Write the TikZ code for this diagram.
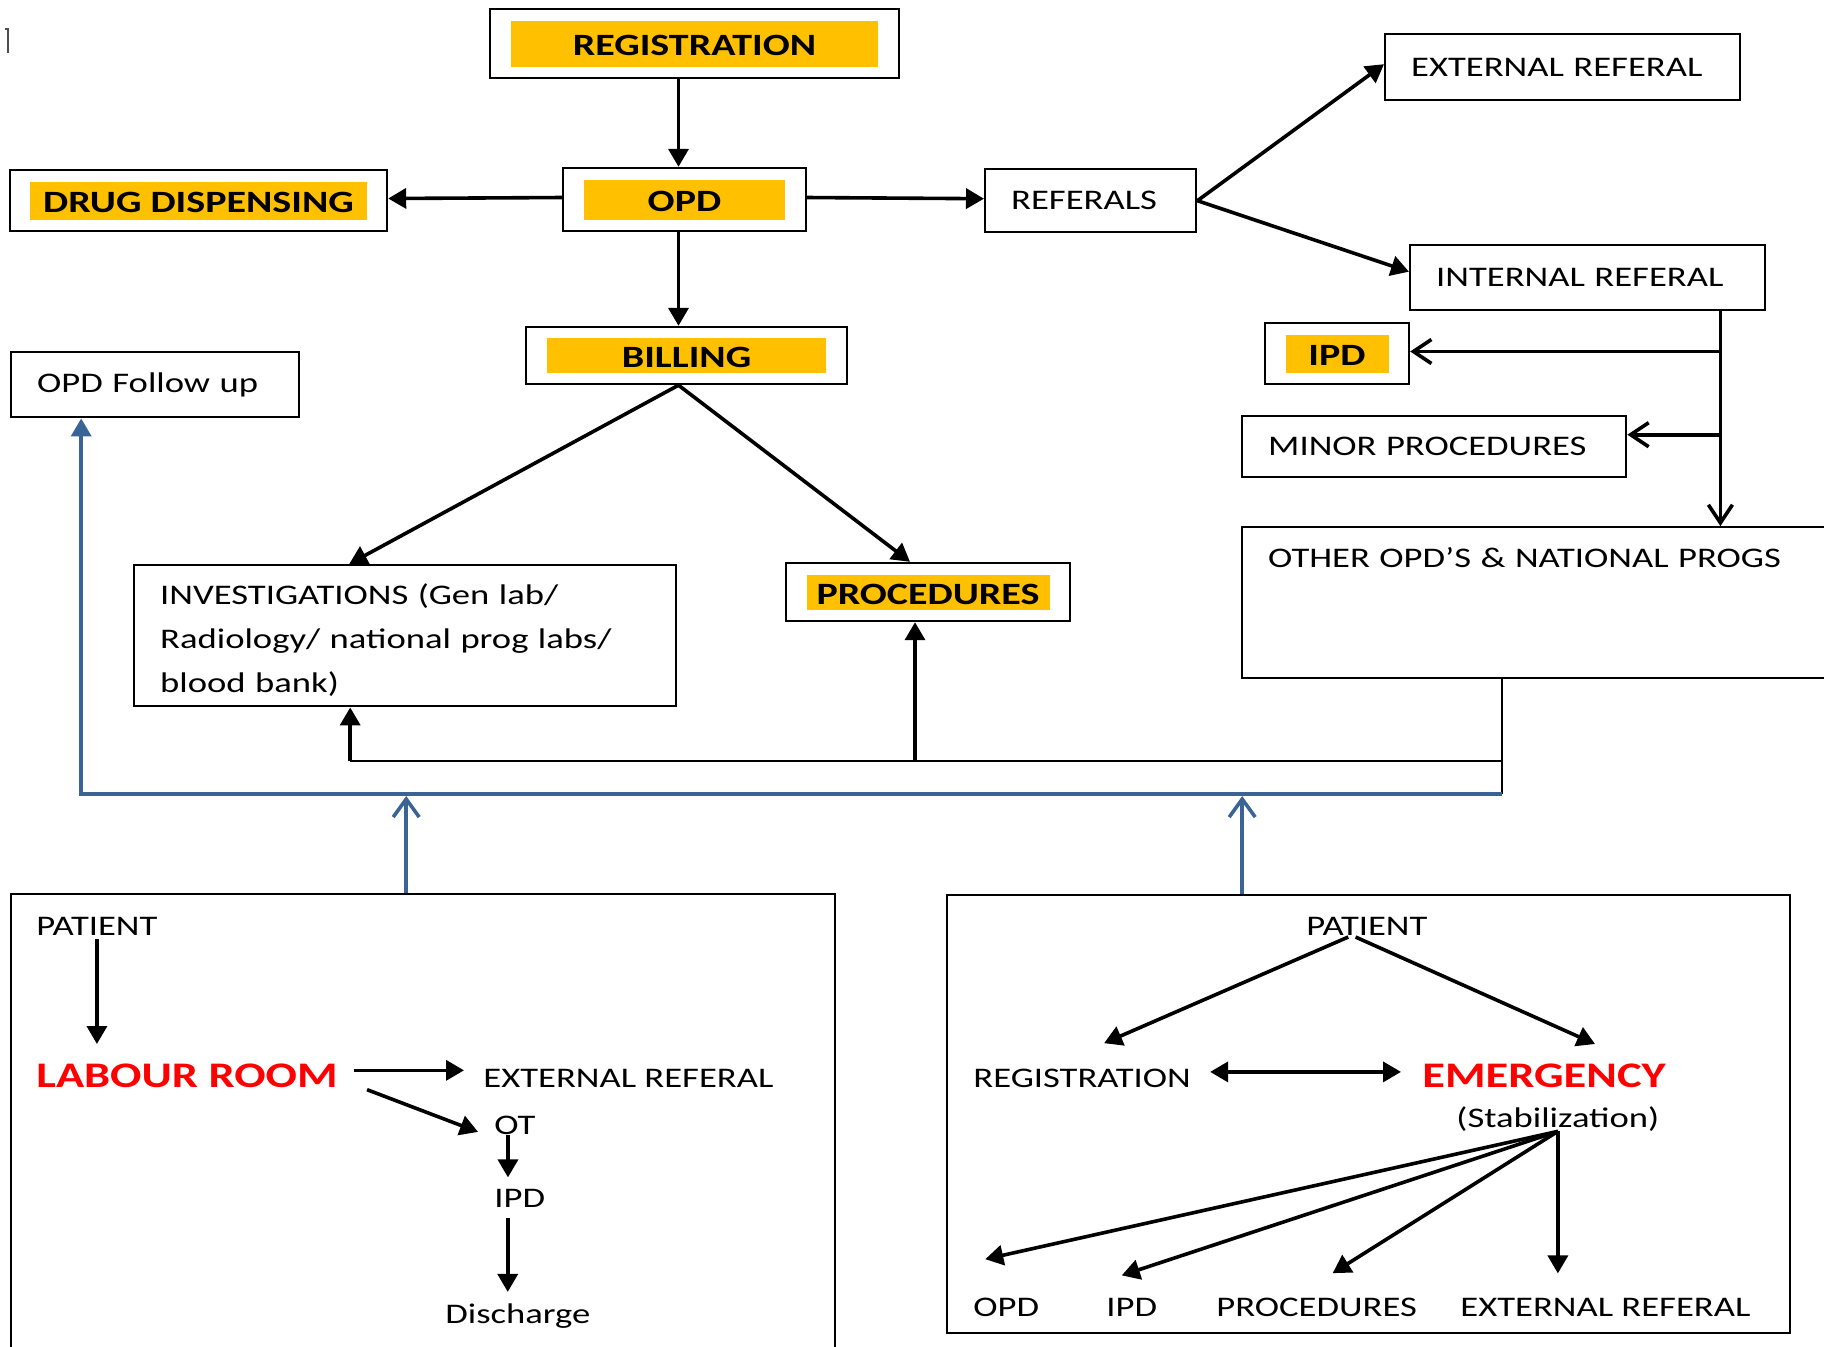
\documentclass[tikz,border=0pt]{standalone}
\usepackage{fontspec}
\setmainfont{Carlito}[FakeStretch=1.29]
\usetikzlibrary{arrows.meta}

\definecolor{gold}{RGB}{255,192,0}
\definecolor{lrred}{RGB}{255,0,0}
\definecolor{fbblue}{RGB}{59,100,150}

\newcommand{\hlt}[3]{{\setlength{\fboxsep}{0pt}\colorbox{gold}{\parbox[c][#2][c]{#1}{\centering\raisebox{-6pt}[0pt][0pt]{#3}}}}}

\tikzset{
  box/.style={draw, line width=1.2pt, inner sep=0pt},
  hlbox/.style 2 args={box, minimum width=#1, minimum height=#2, font=\bfseries\fontsize{15.5}{18}\selectfont},
  pbox/.style 2 args={box, anchor=north west, inner xsep=13pt, text width=#1, minimum height=#2, align=left},
  txt/.style={inner sep=0pt, anchor=base west},
  redtxt/.style={txt, text=lrred, font=\bfseries\fontsize{18}{22}\selectfont},
  arr/.style={line width=1.8pt, -{Triangle[length=9pt,width=10pt]}},
  dbl/.style={line width=1.8pt, {Triangle[length=9pt,width=10pt]}-{Triangle[length=9pt,width=10pt]}},
  barb/.style={line width=1.8pt, -{Straight Barb[length=9pt,width=12pt]}},
  feed/.style={line width=0.9pt},
  bluearr/.style={line width=1.8pt, fbblue, -{Triangle[length=9pt,width=10pt]}},
  bluebarb/.style={line width=1.8pt, fbblue, -{Straight Barb[length=9pt,width=13pt]}},
}

\begin{document}
\begin{tikzpicture}[x=0.5pt, y=-0.5pt, font=\fontsize{14.2}{17}\selectfont]
\useasboundingbox (0,0) rectangle (1824,1346);
\clip (0,0) rectangle (1824,1346);

% stray mark
\draw[line width=1pt, black!70] (5,29) -- (8,29) -- (8,53);

% top part
\node[hlbox={204.5pt}{34.5pt}] (reg) at (694.5,43.5) {\hlt{183.5pt}{23pt}{REGISTRATION}};
\node[hlbox={121.5pt}{31.5pt}] (opd) at (684.5,199.5) {\hlt{100.5pt}{20pt}{OPD}};
\node[hlbox={188.5pt}{30.5pt}] (drug) at (198.5,200.5) {\hlt{168.5pt}{19pt}{DRUG DISPENSING}};
\node[hlbox={160.5pt}{28.5pt}] (bill) at (686.5,355.5) {\hlt{139.5pt}{17.5pt}{BILLING}};
\node[hlbox={72pt}{30.5pt}] (ipd) at (1337,353.5) {\hlt{51.5pt}{19pt}{IPD}};
\node[hlbox={142pt}{29pt}] (proc) at (928,592) {\hlt{121.5pt}{17.5pt}{PROCEDURES}};

\node[pbox={79.5pt}{31.5pt}] (refs) at (984,168) {REFERALS};
\node[pbox={151.5pt}{33pt}] (extref) at (1384,33) {EXTERNAL REFERAL};
\node[pbox={151.5pt}{32.5pt}] (intref) at (1409,244) {INTERNAL REFERAL};
\node[pbox={166pt}{30.5pt}] (minor) at (1241,415) {MINOR PROCEDURES};
\node[pbox={118pt}{32.5pt}] (follow) at (10,351) {OPD Follow up};
\node[pbox={245pt}{70.5pt}, font=\fontsize{14.2}{22}\selectfont] (invest) at (133,564)
  {\rule{0pt}{14.5pt}INVESTIGATIONS (Gen lab/\\Radiology/ national prog labs/\\blood bank)};
\node[pbox={324pt}{75.5pt}, text height=20pt, text depth=55.5pt] (other) at (1241,526)
  {OTHER OPD’S \& NATIONAL PROGS};

\coordinate (opdtop) at ([xshift=-3pt]opd.north);
\coordinate (opdfoot) at ([xshift=-3pt]opd.south);
\draw[arr] (opdtop |- reg.south) -- (opdtop);
\draw[arr] ([yshift=1pt]opd.west) -- ([yshift=1pt]drug.east);
\draw[arr] ([yshift=1pt]opd.east) -- ([yshift=1pt]refs.west);
\draw[arr] (opdfoot) -- (opdfoot |- bill.north);
\draw[arr] (refs.east) -- ([yshift=1.5pt]extref.west);
\draw[arr] (refs.east) -- ([yshift=3pt]intref.west);

\coordinate (trunk) at ([xshift=-23pt]intref.south east);
\coordinate (minorin) at ([yshift=6pt]minor.east);
\draw[barb] (trunk) -- (trunk |- other.north);
\draw[barb] ([yshift=1pt]trunk |- ipd.east) -- ([yshift=1pt]ipd.east);
\draw[barb] (trunk |- minorin) -- (minorin);

\draw[arr] (opdfoot |- bill.south) -- ([xshift=-28pt]invest.north);
\draw[arr] (opdfoot |- bill.south) -- ([xshift=-9pt]proc.north);

% back lines
\coordinate (fbtop) at ([xshift=130.5pt]other.south west);
\coordinate (fbmid) at (1502,761);
\coordinate (fbend) at (1502,794);
\coordinate (invfoot) at ([xshift=-27.5pt]invest.south);
\coordinate (procfoot) at ([xshift=-6.5pt]proc.south);
\coordinate (fufoot) at ([xshift=-37pt]follow.south);
\draw[feed] (fbtop) -- (fbend);
\draw[feed] (fbmid) -- (fbmid -| invfoot);
\draw[arr] (fbmid -| invfoot) -- (invfoot);
\draw[arr] (fbmid -| procfoot) -- (procfoot);
\draw[bluearr] (fbend) -- (fbend -| fufoot) -- (fufoot);

% labour room
\node[box, anchor=north west, minimum width=412pt, minimum height=300pt] (lrbox) at (10,893) {};
\node[txt] (patL) at (36,935) {PATIENT};
\node[redtxt] (lab) at (36,1087) {LABOUR ROOM};
\node[txt] (extL) at (483,1087) {EXTERNAL REFERAL};
\node[txt] (ot) at (494,1134) {OT};
\node[txt] (ipdL) at (494,1207) {IPD};
\node[txt] (dis) at (445,1323) {Discharge};

\coordinate (otfoot) at ([xshift=-3.5pt]ot.south);
\coordinate (ipdfoot) at ([xshift=-6pt]ipdL.south);
\draw[arr, shorten <=2pt, shorten >=9.5pt] (patL.south) -- (patL.south |- lab.north);
\draw[arr, shorten <=8pt, shorten >=9.5pt] ([yshift=2.5pt]lab.east) -- ([yshift=2.5pt]lab.east -| extL.west);
\draw[arr] ([shift={(29,2)}]lab.south east) -- ([shift={(-16,7)}]ot.west);
\draw[arr, shorten >=5.5pt] (otfoot) -- (otfoot |- ipdL.north);
\draw[arr, shorten <=5.5pt, shorten >=5.5pt] (ipdfoot) -- (ipdfoot |- dis.north);

% emergency
\node[box, anchor=north west, minimum width=421.5pt, minimum height=219pt] (erbox) at (946,894) {};
\node[txt] (patR) at (1306,935) {PATIENT};
\node[txt] (regR) at (973,1087) {REGISTRATION};
\node[redtxt] (emg) at (1422,1087) {EMERGENCY};
\node[txt] (stab) at (1456,1127) {(Stabilization)};
\node[txt] (opdR) at (973,1316) {OPD};
\node[txt] (ipdR) at (1106,1316) {IPD};
\node[txt] (procR) at (1216,1316) {PROCEDURES};
\node[txt] (extR) at (1460,1316) {EXTERNAL REFERAL};

\coordinate (patRfoot) at ([xshift=-7.5pt]patR.south);
\draw[arr, shorten <=2pt] (patRfoot) -- ([shift={(22,-25)}]regR.north);
\draw[arr, shorten <=2pt] (patRfoot) -- ([shift={(51,-19)}]emg.north);
\draw[dbl, shorten <=9.5pt, shorten >=10.5pt] ([yshift=3pt]regR.east) -- ([yshift=3pt]regR.east -| emg.west);
\draw[arr] (stab.south) -- ([shift={(-21,-38)}]opdR.north);
\draw[arr] (stab.south) -- ([shift={(-10,-22)}]ipdR.north);
\draw[arr] (stab.south) -- ([shift={(16,-24)}]procR.north);
\draw[arr, shorten >=12pt] (stab.south) -- (stab.south |- extR.north);

% blue arrows up
\coordinate (lrup) at ([xshift=-8.5pt]lrbox.north);
\coordinate (erup) at ([xshift=-63.25pt]erbox.north);
\draw[bluebarb, shorten >=1pt] (lrup) -- (lrup |- fbend);
\draw[bluebarb, shorten >=1pt] (erup) -- (erup |- fbend);
\end{tikzpicture}
\end{document}
